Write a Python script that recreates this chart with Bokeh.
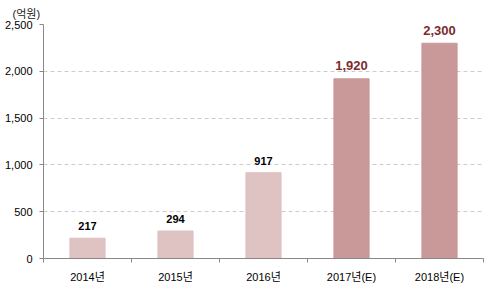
from bokeh.plotting import figure
from bokeh.models import FixedTicker, ColumnDataSource, Range1d, Title
from bokeh.core.properties import value
from bokeh.embed import file_html
from bokeh.resources import INLINE

# ---- data ----
categories = ["2014년", "2015년", "2016년", "2017년(E)", "2018년(E)"]
values = [217, 294, 917, 1920, 2300]
estimate = [False, False, False, True, True]
y_ticks = [0, 500, 1000, 1500, 2000, 2500]
unit_label = "(억원)"

FONT = "Liberation Sans, Noto Sans CJK KR"
LIGHT = "#dfc2c2"
DARK = "#c99899"

xs = [i + 0.5 for i in range(len(categories))]
colors = [DARK if e else LIGHT for e in estimate]

p = figure(width=489, height=288, output_backend="svg", toolbar_location=None,
           x_range=Range1d(0, len(categories)), y_range=Range1d(0, 2500),
           min_border_left=43, min_border_right=6, min_border_top=24, min_border_bottom=30)
p.outline_line_color = None
p.background_fill_color = "white"
p.border_fill_color = "white"

src = ColumnDataSource(dict(x=xs, top=values, color=colors))
p.vbar(x="x", top="top", width=0.4, bottom=0, color="color", source=src)

# value labels
normal = ColumnDataSource(dict(x=[x for x, e in zip(xs, estimate) if not e],
                               y=[v for v, e in zip(values, estimate) if not e],
                               t=[f"{v:,}" for v, e in zip(values, estimate) if not e]))
est = ColumnDataSource(dict(x=[x for x, e in zip(xs, estimate) if e],
                            y=[v for v, e in zip(values, estimate) if e],
                            t=[f"{v:,}" for v, e in zip(values, estimate) if e]))
p.text(x="x", y="y", text="t", source=normal, text_align="center", text_baseline="middle",
       y_offset=-12, text_font=value(FONT), text_font_size="11px", text_font_style="bold",
       text_color="#000000")
p.text(x="x", y="y", text="t", source=est, text_align="center", text_baseline="middle",
       y_offset=-13, text_font=value(FONT), text_font_size="13px", text_font_style="bold",
       text_color="#7b2b2b")

# axes
xa = p.xaxis[0]
xa.ticker = FixedTicker(ticks=xs, minor_ticks=list(range(len(categories) + 1)))
xa.major_label_overrides = {x: c for x, c in zip(xs, categories)}
xa.major_tick_out = 0
xa.major_tick_in = 0
xa.minor_tick_out = 4
xa.minor_tick_in = 0
xa.minor_tick_line_color = "#888888"
xa.axis_line_color = "#888888"
xa.major_label_standoff = 8
xa.major_label_text_font = FONT
xa.major_label_text_font_size = "11px"
xa.major_label_text_color = "#000000"

ya = p.yaxis[0]
ya.ticker = FixedTicker(ticks=y_ticks, minor_ticks=[])
ya.major_label_overrides = {t: f"{t:,}" for t in y_ticks}
ya.major_tick_out = 4
ya.major_tick_in = 0
ya.major_tick_line_color = "#888888"
ya.axis_line_color = "#888888"
ya.major_label_standoff = 7
ya.major_label_text_font = FONT
ya.major_label_text_font_size = "11px"
ya.major_label_text_color = "#000000"

p.xgrid.grid_line_color = None
p.ygrid.grid_line_color = "#cccccc"
p.ygrid.grid_line_dash = "4 3"
p.ygrid.ticker = FixedTicker(ticks=y_ticks[1:])

p.add_layout(Title(text=unit_label, align="left", offset=-31, standoff=9,
                   text_font=FONT, text_font_size="11px", text_font_style="normal",
                   text_color="#222222"), "above")

open("out.html", "w").write(file_html(p, INLINE))
